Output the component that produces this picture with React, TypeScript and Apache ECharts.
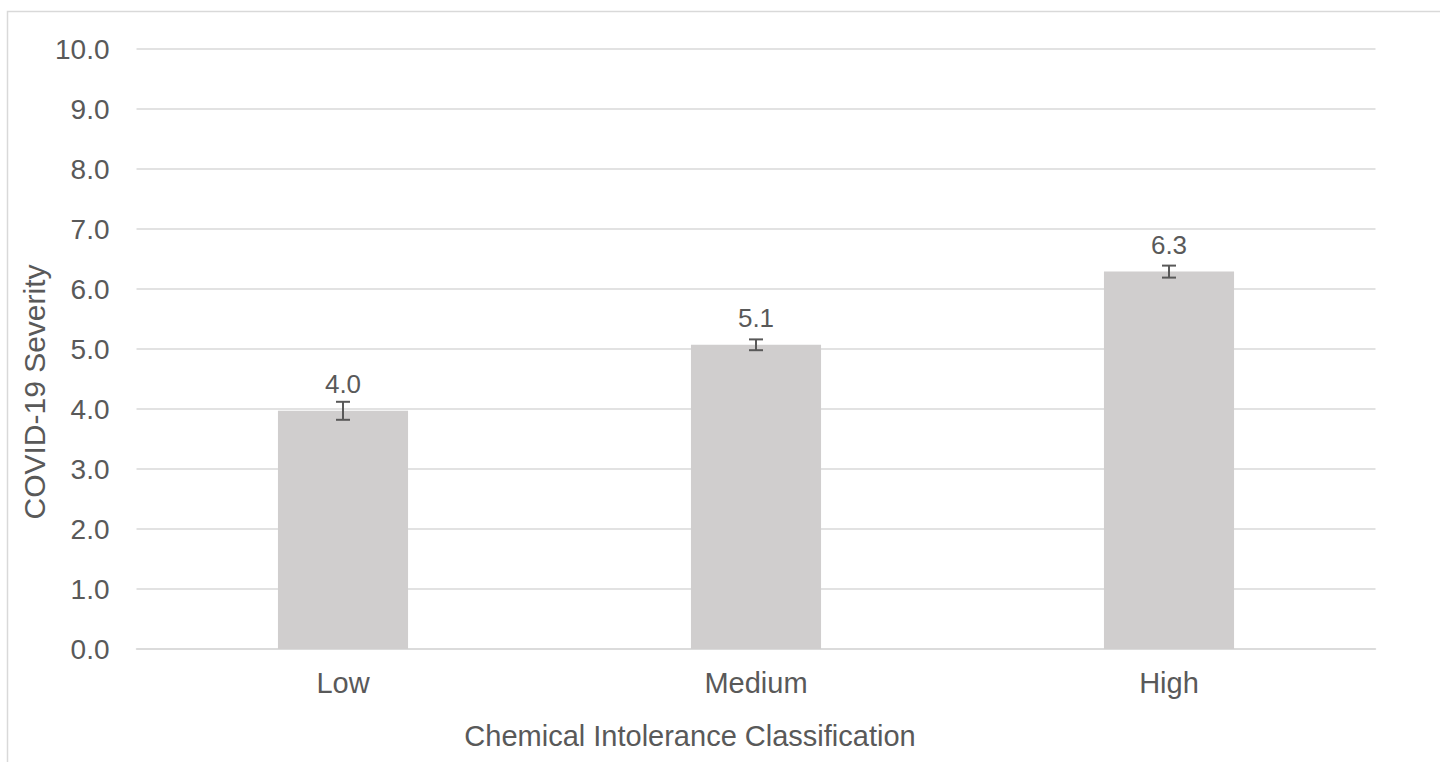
import React, { useEffect, useRef } from "react";
import * as echarts from "echarts";

const categories = ["Low", "Medium", "High"];
const severityMeans = [3.97, 5.07, 6.29];
const severityErrors = [0.15, 0.09, 0.1];
const meanLabels = ["4.0", "5.1", "6.3"];

const TEXT = "#595959";
const GRID = "#d9d9d9";
const FONT = "Liberation Sans, Arial, sans-serif";

export default function App() {
  const ref = useRef<HTMLDivElement>(null);
  useEffect(() => {
    document.body.style.margin = "0";
    const chart = echarts.init(ref.current!, null, { renderer: "svg" });
    const errData = categories.map((c, i) => [i, severityMeans[i] - severityErrors[i], severityMeans[i] + severityErrors[i]]);
    chart.setOption({
      animation: false,
      textStyle: { fontFamily: FONT },
      grid: { left: 136.5, right: 64.5, top: 49, bottom: 113, containLabel: false },
      xAxis: {
        type: "category",
        data: categories,
        axisLine: { show: true, lineStyle: { color: GRID, width: 1.5 } },
        axisTick: { show: false },
        axisLabel: { color: TEXT, fontSize: 29, margin: 19, fontFamily: FONT },
      },
      yAxis: {
        type: "value",
        min: 0,
        max: 10,
        interval: 1,
        axisLine: { show: false },
        axisTick: { show: false },
        axisLabel: { color: TEXT, fontSize: 28, margin: 27, fontFamily: FONT, formatter: (v: number) => v.toFixed(1) },
        splitLine: { lineStyle: { color: GRID, width: 1.5 } },
      },
      series: [
        {
          type: "bar",
          data: severityMeans,
          barWidth: "31.5%",
          itemStyle: { color: "#d0cece" },
          label: {
            show: true,
            position: "top",
            distance: 14,
            color: TEXT,
            fontSize: 26,
            fontFamily: FONT,
            formatter: (p: any) => meanLabels[p.dataIndex],
          },
          z: 2,
        },
        {
          type: "custom",
          data: errData,
          z: 3,
          renderItem: (params: any, api: any) => {
            const x = api.value(0);
            const lo = api.coord([x, api.value(1)]);
            const hi = api.coord([x, api.value(2)]);
            const hw = 7;
            const style = { stroke: TEXT, lineWidth: 2, fill: "none" };
            return {
              type: "group",
              children: [
                { type: "line", shape: { x1: lo[0], y1: lo[1], x2: hi[0], y2: hi[1] }, style },
                { type: "line", shape: { x1: lo[0] - hw, y1: lo[1], x2: lo[0] + hw, y2: lo[1] }, style },
                { type: "line", shape: { x1: hi[0] - hw, y1: hi[1], x2: hi[0] + hw, y2: hi[1] }, style },
              ],
            };
          },
        },
      ],
      graphic: [
        {
          type: "rect",
          shape: { x: 7.5, y: 11.5, width: 1600, height: 900 },
          style: { fill: "none", stroke: GRID, lineWidth: 1.5 },
          silent: true,
        },
        {
          type: "text",
          x: 690,
          y: 736,
          style: {
            text: "Chemical Intolerance Classification",
            fill: TEXT,
            fontSize: 29,
            fontFamily: FONT,
            align: "center",
            verticalAlign: "middle",
          },
        },
        {
          type: "text",
          x: 34,
          y: 392,
          rotation: Math.PI / 2,
          style: {
            text: "COVID-19 Severity",
            fill: TEXT,
            fontSize: 30,
            fontFamily: FONT,
            align: "center",
            verticalAlign: "middle",
          },
        },
      ],
    });
    return () => chart.dispose();
  }, []);
  return <div ref={ref} style={{ width: 1440, height: 762 }} />;
}
